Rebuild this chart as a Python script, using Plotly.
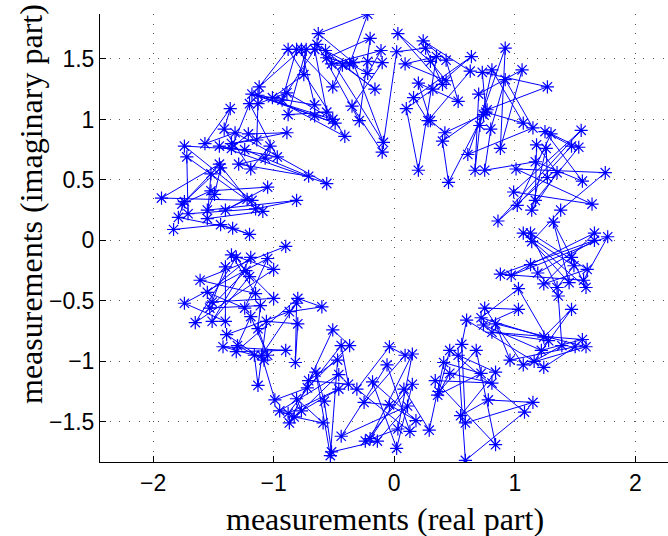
import math
import plotly.graph_objects as go

re_part = [
    -0.88, -0.81, -0.77, -0.73, -0.75, -1.12, -1.18, -1.13, -1.20, -1.13,
    -1.01, -0.93, -0.89, -0.88, -1.36, -1.41, -1.32, -1.21, -1.14, -0.89,
    -1.74, -1.57, -1.45, -1.35, -1.35, -1.24, -1.03, -1.72, -1.07, -0.97,
    -0.22, -0.63, 0.03, -0.20, 0.24, -0.64, 0.26, -0.66, -0.57, -0.11,
    0.02, -0.56, 0.35, 0.43, 0.30, -0.52, -0.43, -0.37, -0.34, -0.22,
    -0.10, 0.09, -0.22, -0.51, -0.16, 0.20, 0.43, 0.40, 0.32, 0.16,
    -0.66, -0.35, 0.10, -0.66, -0.56, -0.51, -0.49, -0.29, 0.28, 0.30,
    -0.41, 0.42, 0.40, -0.09, -0.10, 0.20, 0.45,
    0.92, 0.64, 0.63, 0.73, 0.81, 1.06, 0.92, 1.27, 0.70, 0.53,
    0.77, 0.76, 0.74, 1.07, 0.71, 1.15, 0.80, 1.25, 1.30, 1.55,
    1.18, 1.26, 1.47, 1.53, 0.88, 0.61, 1.17,
    0.67, 0.75, 1.01, 1.35, 1.27, 1.75, 1.56, 0.99, 1.02, 1.17,
    1.14, 1.64, 1.38, 1.32, 0.86, 1.07, 1.13, 1.14, 1.66, 1.66,
    1.77, 1.47, 1.49, 1.60, 1.13, 0.88, 0.97, 1.19, 1.24, 1.35,
    1.45, 1.57, 1.59, 1.03, 1.36,
    0.75, 1.03, 1.47, 0.60, 0.72, 0.74, 0.84, 0.81, 1.24, 1.28,
    1.39, 1.50, 1.56, 1.59, 0.56, 1.22, 0.68, 0.53, 0.96, 1.16,
    1.07, 1.24, 0.72, 0.84, 0.81, 0.78, 1.15, 1.08, 0.55, 0.59,
    0.84, 0.59,
    -0.60, -0.51, -0.44, -0.37, -0.04, -0.47, 0.09, 0.15, -0.06, -0.65,
    -0.71, -0.46, -0.72, -0.46, -0.38, -0.31, -0.18, -0.58, -0.25, 0.08,
    0.15, 0.34, -0.04, 0.11, 0.46, 0.41, 0.46, 0.37, 0.36, -0.59,
    0.18, 0.03, 0.13, 0.29, -0.44, -0.24, -0.20, -0.14, 0.02, -0.52,
    -0.53,
    -1.19, -1.65, -1.51, -1.40, -1.13, -1.06, -0.87, -0.80, -1.39, -1.42,
    -1.30, -1.31, -1.16, -1.10, -1.05, -1.08, -0.90, -0.82, -1.13, -0.99,
    -0.81, -0.95, -0.88, -0.77, -0.83, -0.87,
    -1.74, -1.53, -1.24, -1.11,
    -0.81, -0.80, -1.51, -1.00, -1.15, -1.55, -1.61, -1.20, -1.23, -1.00,
    -1.40, -1.05, -1.19, -1.31, -1.35, -0.90, -1.20, -1.83, -1.34, -1.44,
    -1.55, -1.79, -1.71, -1.40, -1.55, -1.09, -1.15, -1.76, -1.74, -0.81,
    -1.18, -1.22, -1.93, -1.49, -1.52, -1.05, -1.52, -0.56, -0.71, -1.19,
    -1.44, -1.29, -1.45,
]
im_part = [
    1.58, 1.58, 1.58, 1.58, 1.37, 1.27, 1.21, 1.20, 1.13, 1.13,
    1.18, 1.16, 1.22, 1.04, 1.09, 0.92, 0.89, 0.88, 0.83, 0.89,
    0.78, 0.80, 0.78, 0.80, 0.76, 0.75, 0.78, 0.69, 0.68, 0.69,
    1.87, 1.71, 1.71, 1.67, 1.65, 1.62, 1.59, 1.58, 1.57, 1.57,
    1.56, 1.51, 1.52, 1.49, 1.48, 1.46, 1.45, 1.46, 1.47, 1.48,
    1.47, 1.46, 1.38, 1.27, 1.25, 1.30, 1.32, 1.29, 1.25, 1.18,
    1.12, 1.11, 1.09, 1.03, 1.06, 1.00, 0.97, 0.99, 0.99, 0.99,
    0.86, 0.89, 0.82, 0.81, 0.73, 0.58, 0.48,
    1.59, 1.52, 1.40, 1.39, 1.41, 1.41, 1.33, 1.27, 1.21, 1.15,
    1.08, 1.06, 1.04, 0.97, 0.95, 0.93, 0.92, 0.90, 0.88, 0.91,
    0.79, 0.76, 0.78, 0.77, 0.76, 0.71, 0.65,
    0.58, 0.58, 0.59, 0.56, 0.52, 0.56, 0.49, 0.40, 0.29, 0.33,
    0.25, 0.30, 0.25, 0.15, 0.16, 0.06, 0.06, -0.01, 0.06, 0.00,
    0.03, -0.14, -0.21, -0.24, -0.20, -0.28, -0.29, -0.27, -0.36, -0.39,
    -0.35, -0.33, -0.39, -0.40, -0.46,
    -0.56, -0.57, -0.57, -0.66, -0.64, -0.70, -0.69, -0.76, -0.80, -0.83,
    -0.87, -0.88, -0.82, -0.88, -0.86, -0.91, -0.91, -0.95, -0.99, -1.00,
    -1.03, -1.05, -1.10, -1.09, -1.18, -1.32, -1.34, -1.42, -1.45, -1.51,
    -1.69, -1.82,
    -0.55, -0.74, -0.87, -0.87, -0.88, -0.99, -0.95, -0.94, -1.03, -1.09,
    -1.16, -1.11, -1.22, -1.23, -1.19, -1.23, -1.17, -1.33, -1.34, -1.23,
    -1.19, -1.16, -1.36, -1.37, -0.91, -1.01, -1.10, -1.25, -1.28, -1.51,
    -1.49, -1.56, -1.58, -1.57, -1.62, -1.66, -1.64, -1.66, -1.72, -1.75,
    -1.78,
    -0.63, -0.68, -0.67, -0.67, -0.73, -0.67, -0.59, -0.69, -0.78, -0.88,
    -0.87, -0.92, -0.95, -0.95, -0.95, -0.99, -0.91, -1.01, -1.20, -1.32,
    -1.31, -1.41, -1.43, -1.41, -1.46, -1.51,
    -0.52, -0.56, -0.56, -0.54,
    -0.52, -0.48, -0.51, -0.48, -0.44, -0.43, -0.33, -0.30, -0.25, -0.24,
    -0.22, -0.15, -0.14, -0.14, -0.12, -0.05, 0.05, 0.09, 0.10, 0.13,
    0.18, 0.19, 0.22, 0.25, 0.25, 0.24, 0.26, 0.30, 0.32, 0.33,
    0.33, 0.34, 0.35, 0.38, 0.41, 0.44, 0.55, 0.47, 0.53, 0.59,
    0.60, 0.63, 0.63,
]

x_ticks = [-2, -1, 0, 1, 2]
y_ticks = [-1.5, -1, -0.5, 0, 0.5, 1, 1.5]
x_title = "measurements (real part)"
y_title = "measurements (imaginary part)"

# measurement sequence: walk around the ring (by phase), visiting the samples
# of each stretch of the ring in a scrambled order so that the trace crosses
# itself with medium-length jumps, as in the original
order = sorted(range(len(re_part)), key=lambda i: math.atan2(im_part[i], re_part[i]))
block_len, stride = 20, 7
seq = []
for s in range(0, len(order), block_len):
    block = order[s:s + block_len]
    n = len(block)
    st = stride if math.gcd(stride, n) == 1 else 1
    seq.extend(block[(k * st) % n] for k in range(n))
xs = [re_part[i] for i in seq]
ys = [im_part[i] for i in seq]

blue = "#0000ff"

fig = go.Figure(
    go.Scatter(
        x=xs,
        y=ys,
        mode="lines+markers",
        line=dict(color=blue, width=1),
        marker=dict(symbol="asterisk-open", size=11, color=blue,
                    line=dict(color=blue, width=1.2)),
        showlegend=False,
    )
)

axis_common = dict(
    showline=True, linecolor="black", linewidth=1, mirror=False,
    ticks="inside", ticklen=6, tickcolor="black", tickwidth=1,
    showgrid=True, gridcolor="#555555", gridwidth=1, griddash="1px,8.7px",
    zeroline=False,
    tickfont=dict(family="Liberation Sans, Arial, sans-serif", size=23, color="black"),
)


def fmt(v):
    return ("\u2212" + f"{-v:g}") if v < 0 else f"{v:g}"


fig.update_xaxes(range=[-2.44, 2.27], tickvals=x_ticks,
                 ticktext=[fmt(v) for v in x_ticks], **axis_common)
fig.update_yaxes(range=[-1.833, 1.872], tickvals=y_ticks,
                 ticktext=[fmt(v) for v in y_ticks], **axis_common)

title_font = dict(family="Liberation Serif, Times New Roman, serif", size=32, color="black")
fig.update_layout(
    width=668, height=536,
    margin=dict(l=100, r=0, t=14, b=74, pad=0),
    paper_bgcolor="white", plot_bgcolor="white",
    annotations=[
        dict(text=x_title, xref="paper", yref="paper", x=(385 - 100) / 568,
             y=-(519 - 462) / 448, xanchor="center", yanchor="middle",
             showarrow=False, font=title_font),
        dict(text=y_title, xref="paper", yref="paper", x=-(100 - 31) / 568,
             y=(462 - 204) / 448, xanchor="center", yanchor="middle",
             textangle=-90, showarrow=False, font=title_font),
    ],
)

fig.write_html("out.html")
